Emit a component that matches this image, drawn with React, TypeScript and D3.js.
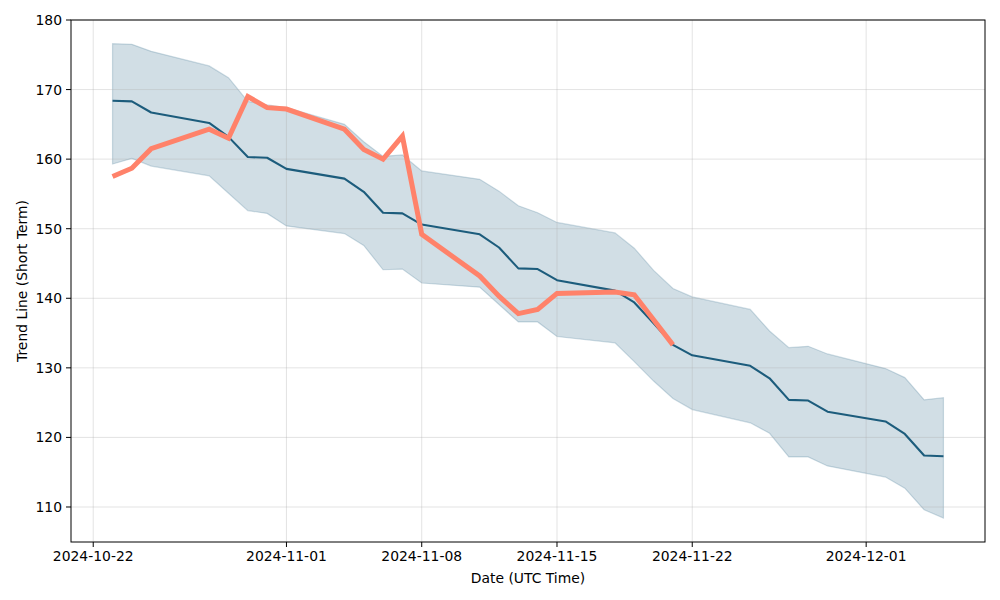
import React from 'react';
import * as d3 from 'd3';

// trading days shown in the chart
const dates = [
  '2024-10-23', '2024-10-24', '2024-10-25', '2024-10-28', '2024-10-29', '2024-10-30', '2024-10-31',
  '2024-11-01', '2024-11-04', '2024-11-05', '2024-11-06', '2024-11-07', '2024-11-08', '2024-11-11',
  '2024-11-12', '2024-11-13', '2024-11-14', '2024-11-15', '2024-11-18', '2024-11-19', '2024-11-20',
  '2024-11-21', '2024-11-22', '2024-11-25', '2024-11-26', '2024-11-27', '2024-11-28', '2024-11-29',
  '2024-12-02', '2024-12-03', '2024-12-04', '2024-12-05',
];

const trend = [
  168.4, 168.3, 166.7, 165.2, 163.2, 160.3, 160.2, 158.6, 157.2, 155.3, 152.3, 152.2, 150.6, 149.2,
  147.3, 144.3, 144.2, 142.6, 141.1, 139.4, 136.4, 133.3, 131.8, 130.3, 128.5, 125.4, 125.3, 123.7,
  122.3, 120.5, 117.4, 117.3,
];

const upper = [
  176.6, 176.5, 175.5, 173.4, 171.7, 168.3, 167.8, 167.4, 165.0, 162.5, 160.4, 160.6, 158.3, 157.1,
  155.4, 153.3, 152.3, 150.9, 149.4, 147.2, 144.0, 141.4, 140.2, 138.4, 135.3, 132.9, 133.1, 132.0,
  129.9, 128.6, 125.4, 125.7,
];

const lower = [
  159.3, 160.1, 159.0, 157.6, 155.1, 152.6, 152.2, 150.4, 149.3, 147.6, 144.1, 144.2, 142.2, 141.6,
  139.1, 136.6, 136.6, 134.5, 133.6, 130.9, 128.1, 125.6, 124.0, 122.1, 120.6, 117.2, 117.2, 115.9,
  114.3, 112.7, 109.6, 108.4,
];

// actual price, only available for the first 22 days
const actual = [
  157.5, 158.7, 161.5, 164.3, 163.0, 169.0, 167.4, 167.2, 164.3, 161.4, 160.0, 163.3, 149.2, 143.2,
  140.3, 137.8, 138.4, 140.7, 140.9, 140.5, 136.9, 133.3,
];

const xTicks = ['2024-10-22', '2024-11-01', '2024-11-08', '2024-11-15', '2024-11-22', '2024-12-01'];
const yTicks = [110, 120, 130, 140, 150, 160, 170, 180];

const width = 1000;
const height = 600;
const margin = { top: 20, right: 15, bottom: 58, left: 71 };
const font = 'DejaVu Sans, sans-serif';

export default function App() {
  const parse = d3.utcParse('%Y-%m-%d');
  const days = dates.map(d => parse(d) as Date);

  const x = d3.scaleUtc()
    .domain(d3.extent(days) as [Date, Date])
    .range([margin.left, width - margin.right]);
  // matplotlib style 5% padding on x
  const span = x.domain()[1].getTime() - x.domain()[0].getTime();
  x.domain([new Date(x.domain()[0].getTime() - span * 0.05), new Date(x.domain()[1].getTime() + span * 0.05)]);

  const y = d3.scaleLinear().domain([105, 180]).range([height - margin.bottom, margin.top]);
  y.domain([180 - (height - margin.bottom - margin.top) / 6.957, 180]);

  const band = d3.area<number>()
    .x((_, i) => x(days[i]))
    .y0((_, i) => y(lower[i]))
    .y1(d => y(d));

  const line = d3.line<number>()
    .x((_, i) => x(days[i]))
    .y(d => y(d));

  const bottom = height - margin.bottom;
  const left = margin.left;
  const right = width - margin.right;

  return (
    <svg width={width} height={height} style={{ position: 'absolute', left: 0, top: 0, background: '#fff' }}>
      <path d={band(upper) || ''} fill="#195a7d" fillOpacity={0.2} stroke="#195a7d" strokeOpacity={0.2} strokeWidth={1.2} />

      {/* grid */}
      {xTicks.map(t => (
        <line key={t} x1={x(parse(t) as Date)} x2={x(parse(t) as Date)} y1={margin.top} y2={bottom}
          stroke="#b0b0b0" strokeOpacity={0.35} strokeWidth={1} />
      ))}
      {yTicks.map(t => (
        <line key={t} x1={left} x2={right} y1={y(t)} y2={y(t)}
          stroke="#b0b0b0" strokeOpacity={0.35} strokeWidth={1} />
      ))}

      <path d={line(trend) || ''} fill="none" stroke="#1c5c7c" strokeWidth={2.1} strokeLinejoin="round" />
      <path d={line(actual) || ''} fill="none" stroke="#ff826a" strokeWidth={5} strokeLinejoin="miter" />

      {/* frame */}
      <rect x={left} y={margin.top} width={right - left} height={bottom - margin.top} fill="none" stroke="#000" strokeWidth={1} />

      {/* x axis */}
      {xTicks.map(t => {
        const px = x(parse(t) as Date);
        return (
          <g key={t}>
            <line x1={px} x2={px} y1={bottom} y2={bottom + 5} stroke="#000" />
            <text x={px} y={bottom + 19} textAnchor="middle" fontFamily={font} fontSize={13.9}>{t}</text>
          </g>
        );
      })}
      <text x={(left + right) / 2} y={583} textAnchor="middle" fontFamily={font} fontSize={13.9}>Date (UTC Time)</text>

      {/* y axis */}
      {yTicks.map(t => (
        <g key={t}>
          <line x1={left - 5} x2={left} y1={y(t)} y2={y(t)} stroke="#000" />
          <text x={left - 9} y={y(t) + 5} textAnchor="end" fontFamily={font} fontSize={13.9}>{t}</text>
        </g>
      ))}
      <text transform={`translate(27,${(margin.top + bottom) / 2}) rotate(-90)`} textAnchor="middle"
        fontFamily={font} fontSize={13.9}>Trend Line (Short Term)</text>
    </svg>
  );
}
